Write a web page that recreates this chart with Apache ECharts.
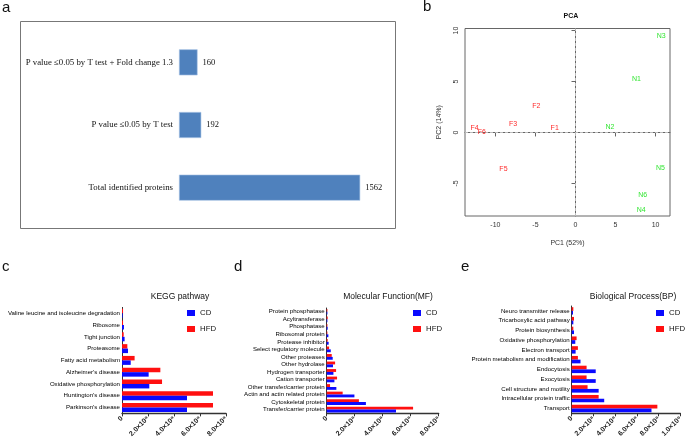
<!DOCTYPE html>
<html>
<head>
<meta charset="utf-8">
<script src="https://cdn.jsdelivr.net/npm/echarts@6/dist/echarts.min.js"></script>
<style>
  html, body { margin: 0; padding: 0; background: #fff; }
  #main { width: 685px; height: 442px; }
</style>
</head>
<body>
<div id="main"></div>
<script>
// panel a
const filterLabels = ["Total identified proteins", "P value \u22640.05 by T test", "P value \u22640.05 by T test + Fold change 1.3"];
const filterCounts = [1562, 192, 160];

// panel b (PCA)
const pcaF = [["F1", -2.6, 0.4], ["F2", -4.9, 2.6], ["F3", -7.8, 0.85], ["F4", -12.6, 0.46], ["F5", -9.0, -3.6], ["F6", -11.7, 0.0]];
const pcaN = [["N1", 7.6, 5.2], ["N2", 4.3, 0.5], ["N3", 10.7, 9.5], ["N4", 8.2, -7.6], ["N5", 10.6, -3.5], ["N6", 8.4, -6.1]];
const pcaTicksX = [-10, -5, 0, 5, 10];
const pcaTicksY = [-5, 0, 5, 10];

// panel c (bottom -> top)
const keggCats = ["Parkinson's disease", "Huntington's disease", "Oxidative phosphorylation", "Alzheimer's disease", "Fatty acid metabolism", "Proteasome", "Tight junction", "Ribosome", "Valine leucine and isoleucine degradation"];
const keggCD = [5.0, 5.0, 2.1, 2.05, 0.67, 0.46, 0.2, 0.15, 0.05];
const keggHFD = [7.0, 7.0, 3.08, 2.95, 0.97, 0.41, 0.13, 0.08, 0.08];

// panel d
const mfCats = ["Transfer/carrier protein", "Cytoskeletal protein", "Actin and actin related protein", "Other transfer/carrier protein", "Cation transporter", "Hydrogen transporter", "Other hydrolase", "Other proteases", "Select regulatory molecule", "Protease inhibitor", "Ribosomal protein", "Phosphatase", "Acyltransferase", "Protein phosphatase"];
const mfCD = [4.95, 2.8, 1.98, 0.69, 0.55, 0.48, 0.45, 0.43, 0.29, 0.14, 0.12, 0.07, 0.05, 0.05];
const mfHFD = [6.17, 2.3, 1.14, 0.24, 0.74, 0.67, 0.6, 0.36, 0.17, 0.07, 0.05, 0.05, 0.07, 0.05];

// panel e
const bpCats = ["Transport", "Intracellular protein traffic", "Cell structure and motility", "Exocytosis", "Endocytosis", "Protein metabolism and modification", "Electron transport", "Oxidative phosphorylation", "Protein biosynthesis", "Tricarboxylic acid pathway", "Neuro transmitter release"];
const bpCD = [7.34, 2.99, 2.48, 2.21, 2.21, 0.81, 0.36, 0.33, 0.21, 0.15, 0.12];
const bpHFD = [7.88, 2.48, 1.46, 1.37, 1.37, 0.57, 0.57, 0.45, 0.15, 0.21, 0.15];

const ticks8 = ["0", "2.0\u00d710\u2078", "4.0\u00d710\u2078", "6.0\u00d710\u2078", "8.0\u00d710\u2078"];
const ticks10 = ["0", "2.0\u00d710\u2078", "4.0\u00d710\u2078", "6.0\u00d710\u2078", "8.0\u00d710\u2078", "1.0\u00d710\u2079"];

const narrow = '"Liberation Sans Narrow", "Arial Narrow", sans-serif';
const sans = '"Liberation Sans", Arial, sans-serif';
const serif = '"Liberation Serif", "DejaVu Serif", serif';
const blue = "#0a0aff";
const red = "#ff1010";

const chart = echarts.init(document.getElementById("main"));

function catY(idx, cats) {
  return {
    type: "category", gridIndex: idx, data: cats,
    axisLine: { lineStyle: { color: "#333", width: 1 } },
    axisTick: { alignWithLabel: true, length: 3, lineStyle: { color: "#333" } },
    axisLabel: { interval: 0, fontFamily: narrow, fontSize: 6.1, color: "#000", margin: 2 }
  };
}
function valX(idx, max, labels) {
  return {
    type: "value", gridIndex: idx, min: 0, max: max, interval: 2,
    splitLine: { show: false },
    axisLine: { show: true, lineStyle: { color: "#333", width: 1.3 } },
    axisTick: { show: true, length: 3, lineStyle: { color: "#333" } },
    axisLabel: {
      rotate: 45, fontFamily: narrow, fontSize: 7, fontWeight: "bold", color: "#222", margin: 4,
      formatter: v => labels[Math.round(v / 2)]
    }
  };
}
// HFD listed first so it sits above CD inside each category band
function pair(idx, cd, hfd) {
  const base = { type: "bar", xAxisIndex: idx, yAxisIndex: idx, barGap: "0%", barCategoryGap: "24%" };
  return [
    Object.assign({ name: "HFD", data: hfd, itemStyle: { color: red } }, base),
    Object.assign({ name: "CD", data: cd, itemStyle: { color: blue } }, base)
  ];
}
function legendAt(left) {
  return {
    data: ["CD", "HFD"], orient: "vertical", left: left, top: 309,
    icon: "rect", itemWidth: 8, itemHeight: 6, itemGap: 8, padding: 0,
    textStyle: { fontFamily: narrow, fontSize: 7.8, color: "#111", overflow: "none" }
  };
}

function pcaSeries(rows, color) {
  return {
    type: "scatter", xAxisIndex: 1, yAxisIndex: 1, symbolSize: 0,
    itemStyle: { color: color, opacity: 0 },
    emphasis: { disabled: true },
    data: rows.map(d => [d[1], d[2], d[0]]),
    label: {
      show: true, position: [0, 0], align: "center", verticalAlign: "middle",
      formatter: p => p.data[2], fontFamily: sans, fontSize: 7, color: color, opacity: 1
    },
    z: 5
  };
}

chart.setOption({
  animation: false,
  title: [
    { text: "PCA", left: 566, top: 8, textAlign: "center", textStyle: { fontFamily: sans, fontSize: 7, fontWeight: "bold", color: "#111" } },
    { text: "KEGG pathway", left: 175, top: 287, textAlign: "center", textStyle: { fontFamily: narrow, fontSize: 8.5, fontWeight: "normal", color: "#111" } },
    { text: "Molecular Function(MF)", left: 383, top: 287, textAlign: "center", textStyle: { fontFamily: narrow, fontSize: 8.5, fontWeight: "normal", color: "#111" } },
    { text: "Biological Process(BP)", left: 628, top: 287, textAlign: "center", textStyle: { fontFamily: narrow, fontSize: 8.5, fontWeight: "normal", color: "#111" } }
  ],
  legend: [legendAt(187), legendAt(413), legendAt(656)],
  graphic: [
    { type: "rect", shape: { x: 20.5, y: 21.5, width: 375, height: 207 }, style: { fill: "none", stroke: "#777", lineWidth: 1 } },
    { type: "text", left: 2, top: 0, style: { text: "a", font: "15px " + sans, fill: "#111" } },
    { type: "text", left: 423, top: -1, style: { text: "b", font: "15px " + sans, fill: "#111" } },
    { type: "text", left: 2, top: 259, style: { text: "c", font: "15px " + sans, fill: "#111" } },
    { type: "text", left: 234, top: 259, style: { text: "d", font: "15px " + sans, fill: "#111" } },
    { type: "text", left: 461, top: 259, style: { text: "e", font: "15px " + sans, fill: "#111" } }
  ],
  grid: [
    { left: 179, top: 31, width: 232, height: 188 },
    { left: 465, top: 28.5, width: 205, height: 187.5, show: true, borderColor: "#666", borderWidth: 1 },
    { left: 122, top: 307.4, width: 104, height: 106 },
    { left: 326.7, top: 308, width: 112, height: 105.3 },
    { left: 571.7, top: 306, width: 111.7, height: 107.3 }
  ],
  xAxis: [
    { type: "value", gridIndex: 0, min: 0, max: 2000, show: false },
    {
      type: "value", gridIndex: 1, min: -13.8, max: 11.8,
      name: "PC1 (52%)", nameLocation: "middle", nameGap: 24,
      nameTextStyle: { fontFamily: sans, fontSize: 7, color: "#333" },
      splitLine: { show: false },
      axisLine: { show: true, lineStyle: { color: "#666" } },
      axisTick: { show: true, length: 4, customValues: pcaTicksX, lineStyle: { color: "#666" } },
      axisLabel: { customValues: pcaTicksX, fontFamily: sans, fontSize: 7, color: "#333", margin: 6 }
    },
    valX(2, 8, ticks8),
    valX(3, 8, ticks8),
    valX(4, 10, ticks10)
  ],
  yAxis: [
    {
      type: "category", gridIndex: 0, data: filterLabels,
      axisLine: { show: false }, axisTick: { show: false },
      axisLabel: { fontFamily: serif, fontSize: 8.8, color: "#111", margin: 6 }
    },
    {
      type: "value", gridIndex: 1, min: -8.2, max: 10.2,
      name: "PC2 (14%)", nameLocation: "middle", nameGap: 22,
      nameTextStyle: { fontFamily: sans, fontSize: 7, color: "#333" },
      splitLine: { show: false },
      axisLine: { show: true, lineStyle: { color: "#666" } },
      axisTick: { show: true, length: 4, customValues: pcaTicksY, lineStyle: { color: "#666" } },
      axisLabel: { customValues: pcaTicksY, rotate: 90, fontFamily: sans, fontSize: 7, color: "#333", margin: 5 }
    },
    catY(2, keggCats),
    catY(3, mfCats),
    catY(4, bpCats)
  ],
  series: [
    {
      type: "bar", xAxisIndex: 0, yAxisIndex: 0, data: filterCounts, barWidth: 26,
      itemStyle: { color: "#4f81bd", borderColor: "#a9c4e6", borderWidth: 0.6 },
      label: { show: true, position: "right", distance: 5, fontFamily: serif, fontSize: 8.5, color: "#111" }
    },
    {
      // dashed zero lines of the PCA plot
      type: "line", xAxisIndex: 1, yAxisIndex: 1, data: [], silent: true, z: 1,
      markLine: {
        silent: true, symbol: "none", label: { show: false },
        lineStyle: { color: "#bbb", type: [3, 2], width: 1 },
        data: [{ xAxis: 0 }, { yAxis: 0 }]
      }
    },
    pcaSeries(pcaF, "#ff2a2a"),
    pcaSeries(pcaN, "#33e633"),
    ...pair(2, keggCD, keggHFD),
    ...pair(3, mfCD, mfHFD),
    ...pair(4, bpCD, bpHFD)
  ]
});
</script>
</body>
</html>
